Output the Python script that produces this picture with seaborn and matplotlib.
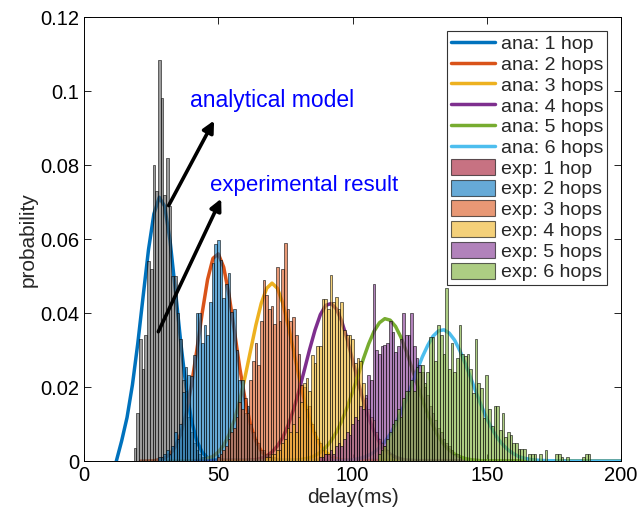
import numpy as np
import matplotlib
matplotlib.use("Agg")
import matplotlib.pyplot as plt
from matplotlib.patches import Patch
from matplotlib.ticker import FixedLocator, FuncFormatter
import seaborn as sns

# experimental histograms: first bin centre (ms) and probability per 1 ms bin
hop1_start = 19
hop1_prob = [0.0035, 0.013, 0.033, 0.025, 0.034, 0.054, 0.052, 0.080, 0.073, 0.1085,
             0.098, 0.072, 0.082, 0.069, 0.050, 0.050, 0.040, 0.033, 0.022, 0.019,
             0.012, 0.008, 0.005, 0.003, 0.002, 0.001, 0.001]
hop2_start = 28
hop2_prob = [0.001, 0.001, 0.002, 0.003, 0.002, 0.004, 0.008, 0.006, 0.010, 0.0187,
             0.0255, 0.0232, 0.023, 0.0286, 0.040, 0.040, 0.032, 0.0368, 0.034, 0.043,
             0.0535, 0.0586, 0.0597, 0.0543, 0.044, 0.048, 0.0508, 0.0404, 0.041, 0.030,
             0.022, 0.022, 0.013, 0.015, 0.010, 0.008, 0.006, 0.005, 0.003, 0.003,
             0.002, 0.002, 0.001, 0.001]
hop3_start = 50
hop3_prob = [0.001, 0.002, 0.003, 0.004, 0.006, 0.008, 0.009, 0.012, 0.016, 0.014,
             0.017, 0.013, 0.022, 0.027, 0.032, 0.026, 0.038, 0.049, 0.045, 0.041,
             0.042, 0.037, 0.0525, 0.038, 0.052, 0.059, 0.041, 0.038, 0.039, 0.034,
             0.029, 0.0205, 0.020, 0.014, 0.015, 0.010, 0.008, 0.006, 0.005, 0.003,
             0.002, 0.002, 0.001]
hop4_start = 68
hop4_prob = [0.001, 0.001, 0.002, 0.002, 0.003, 0.003, 0.005, 0.006, 0.009, 0.008,
             0.010, 0.008, 0.012, 0.016, 0.021, 0.0224, 0.019, 0.0286, 0.0265, 0.031,
             0.031, 0.0438, 0.0438, 0.041, 0.0503, 0.043, 0.0444, 0.041, 0.043, 0.0354,
             0.034, 0.034, 0.033, 0.0265, 0.028, 0.027, 0.021, 0.017, 0.014, 0.012,
             0.011, 0.008, 0.006, 0.005, 0.004, 0.003, 0.002, 0.001]
hop5_start = 88
hop5_prob = [0.001, 0.001, 0.002, 0.002, 0.003, 0.002, 0.004, 0.005, 0.004, 0.006,
             0.008, 0.007, 0.010, 0.012, 0.011, 0.015, 0.014, 0.018, 0.0233, 0.022,
             0.048, 0.030, 0.029, 0.031, 0.0315, 0.032, 0.038, 0.035, 0.0295, 0.031,
             0.033, 0.040, 0.034, 0.034, 0.040, 0.031, 0.028, 0.026, 0.024, 0.020,
             0.018, 0.015, 0.013, 0.011, 0.009, 0.008, 0.006, 0.005, 0.004, 0.003,
             0.002, 0.002, 0.001]
hop6_start = 110
hop6_prob = [0.002, 0.003, 0.004, 0.006, 0.008, 0.010, 0.011, 0.014, 0.012, 0.017,
             0.019, 0.019, 0.022, 0.019, 0.0255, 0.024, 0.026, 0.021, 0.024, 0.0335,
             0.0335, 0.027, 0.0368, 0.034, 0.029, 0.0467, 0.025, 0.032, 0.024, 0.028,
             0.0368, 0.029, 0.0285, 0.029, 0.025, 0.0184, 0.033, 0.021, 0.0198, 0.0117,
             0.0233, 0.014, 0.0095, 0.015, 0.015, 0.0084, 0.013, 0.0066, 0.0078, 0.007,
             0.0048, 0.0048, 0.0032, 0.0032, 0.0032, 0.0, 0.002, 0.002, 0.002, 0.0,
             0.002, 0.0, 0.003, 0.0, 0.0, 0.0, 0.002, 0.002, 0.001, 0.0,
             0.001, 0.0, 0.0, 0.0, 0.0, 0.0, 0.001, 0.002, 0.002]

# analytical curves
ana1_x = [12, 14, 16, 18, 20, 22, 24, 26, 28, 30, 32, 34, 36, 38, 40, 42, 44, 46, 48, 200]
ana1_y = [0.0, 0.0055, 0.0118, 0.0206, 0.0318, 0.0446, 0.0572, 0.0668, 0.0713, 0.0689,
          0.0597, 0.0462, 0.0321, 0.0198, 0.0110, 0.0054, 0.0024, 0.0009, 0.0003, 0.0]
ana2_x = [21, 26, 30, 32, 34, 36, 38, 40, 42, 44, 46, 48, 50, 52, 54, 56, 58, 60, 62,
          64, 66, 68, 70, 72, 74, 200]
ana2_y = [0.0, 0.0001, 0.0008, 0.0019, 0.0039, 0.0074, 0.0128, 0.0206, 0.0300, 0.0401,
          0.0491, 0.0548, 0.0560, 0.0524, 0.0448, 0.0351, 0.0251, 0.0165, 0.0098, 0.0054,
          0.0027, 0.0012, 0.0005, 0.0002, 0.0, 0.0]
ana3_x = [31, 40, 44, 48, 50, 52, 54, 56, 58, 60, 62, 64, 66, 68, 70, 72, 74, 76, 78,
          80, 82, 84, 86, 88, 90, 92, 94, 96, 100, 200]
ana3_y = [0.0, 0.0001, 0.0003, 0.0013, 0.0025, 0.0043, 0.0072, 0.0112, 0.0165, 0.0229,
          0.0299, 0.0368, 0.0427, 0.0467, 0.0481, 0.0467, 0.0427, 0.0368, 0.0299, 0.0229,
          0.0165, 0.0112, 0.0072, 0.0043, 0.0025, 0.0013, 0.0007, 0.0003, 0.0001, 0.0]
ana4_x = [41, 60, 64, 66, 68, 70, 72, 74, 76, 78, 80, 82, 84, 86, 88, 90, 92, 94, 96,
          98, 100, 102, 104, 106, 108, 110, 112, 114, 116, 118, 120, 124, 200]
ana4_y = [0.0, 0.0001, 0.0004, 0.0008, 0.0014, 0.0025, 0.0041, 0.0064, 0.0097, 0.0139,
          0.0189, 0.0245, 0.0302, 0.0354, 0.0396, 0.0421, 0.0426, 0.0411, 0.0377, 0.0329,
          0.0273, 0.0216, 0.0163, 0.0117, 0.0080, 0.0051, 0.0032, 0.0019, 0.0011, 0.0006,
          0.0003, 0.0001, 0.0]
ana5_x = [50, 76, 80, 84, 86, 88, 90, 92, 94, 96, 98, 100, 102, 104, 106, 108, 110, 112,
          114, 116, 118, 120, 122, 124, 126, 128, 130, 132, 134, 136, 138, 140, 142, 144,
          148, 200]
ana5_y = [0.0, 0.0001, 0.0003, 0.0009, 0.0015, 0.0024, 0.0037, 0.0055, 0.0079, 0.0109,
          0.0146, 0.0187, 0.0231, 0.0276, 0.0317, 0.0351, 0.0374, 0.0385, 0.0381, 0.0364,
          0.0335, 0.0297, 0.0254, 0.0209, 0.0166, 0.0127, 0.0094, 0.0066, 0.0045, 0.0030,
          0.0019, 0.0012, 0.0007, 0.0004, 0.0001, 0.0]
ana6_x = [61, 96, 100, 104, 106, 108, 110, 112, 114, 116, 118, 120, 122, 124, 126, 128,
          130, 132, 134, 136, 138, 140, 142, 144, 146, 148, 150, 152, 154, 156, 158, 160,
          162, 164, 166, 168, 170, 174, 180, 200]
ana6_y = [0.0, 0.0001, 0.0003, 0.0010, 0.0016, 0.0024, 0.0036, 0.0052, 0.0073, 0.0100,
          0.0131, 0.0167, 0.0206, 0.0245, 0.0282, 0.0313, 0.0338, 0.0352, 0.0355, 0.0346,
          0.0327, 0.0298, 0.0263, 0.0225, 0.0186, 0.0149, 0.0115, 0.0086, 0.0062, 0.0044,
          0.0030, 0.0020, 0.0012, 0.0008, 0.0005, 0.0003, 0.0002, 0.0001, 0.0, 0.0]

hop_names = ["1 hop", "2 hops", "3 hops", "4 hops", "5 hops", "6 hops"]
line_colors = ["#0072BD", "#D95319", "#EDB120", "#7E2F8E", "#77AC30", "#4DBEEE"]
bar_colors = ["#A2142F", "#0072BD", "#D95319", "#EDB120", "#7E2F8E", "#77AC30"]

sns.set_style("ticks")
plt.rcParams["font.family"] = ["Liberation Sans", "DejaVu Sans"]

fig = plt.figure(figsize=(6.37, 5.17), dpi=100)
ax = fig.add_axes([0.132, 0.108, 0.843, 0.859])

# curves first, the semi-transparent bars go over them
curves = [(ana1_x, ana1_y), (ana2_x, ana2_y), (ana3_x, ana3_y),
          (ana4_x, ana4_y), (ana5_x, ana5_y), (ana6_x, ana6_y)]
line_handles = []
for (cx, cy), col, name in zip(curves, line_colors, hop_names):
    sns.lineplot(x=cx, y=cy, color=col, linewidth=2.5, estimator=None, ax=ax, zorder=1)
    line_handles.append(plt.Line2D([], [], color=col, linewidth=2.5, label="ana: " + name))

hists = [(hop1_start, hop1_prob), (hop2_start, hop2_prob), (hop3_start, hop3_prob),
         (hop4_start, hop4_prob), (hop5_start, hop5_prob), (hop6_start, hop6_prob)]
patch_handles = []
for i, ((start, prob), col, name) in enumerate(zip(hists, bar_colors, hop_names)):
    centers = np.arange(start, start + len(prob))
    fill = "#5a5a5a" if i == 0 else col
    sns.histplot(x=centers, weights=prob, discrete=True, color=fill, alpha=0.6,
                 edgecolor=(0, 0, 0, 0.85), linewidth=0.45, ax=ax, zorder=2)
    patch_handles.append(Patch(facecolor=col, alpha=0.6, edgecolor="black",
                               linewidth=0.8, label="exp: " + name))

ax.set_xlim(0, 200)
ax.set_ylim(0, 0.12)
ax.xaxis.set_major_locator(FixedLocator([0, 50, 100, 150, 200]))
ax.yaxis.set_major_locator(FixedLocator([0, 0.02, 0.04, 0.06, 0.08, 0.1, 0.12]))
ax.yaxis.set_major_formatter(FuncFormatter(lambda v, p: "%g" % round(v, 2)))
ax.tick_params(direction="in", top=True, right=True, length=5, width=0.6,
               labelsize=14.5, colors="black")
for sp in ax.spines.values():
    sp.set_visible(True)
    sp.set_linewidth(0.7)
    sp.set_color("black")
ax.set_xlabel("delay(ms)", fontsize=15, labelpad=2)
ax.set_ylabel("probability", fontsize=15, labelpad=2)

ax.annotate("", xy=(48.9, 0.0927), xytext=(31, 0.0684),
            arrowprops=dict(arrowstyle="-|>", lw=2.6, color="black", mutation_scale=17),
            zorder=6)
ax.annotate("", xy=(51.5, 0.0716), xytext=(27.2, 0.0343),
            arrowprops=dict(arrowstyle="-|>", lw=2.6, color="black", mutation_scale=17),
            zorder=6)
ax.text(39.5, 0.0975, "analytical model", color="blue", fontsize=16.5, va="center", zorder=6)
ax.text(47, 0.0745, "experimental result", color="blue", fontsize=16, va="center", zorder=6)

leg = ax.legend(handles=line_handles + patch_handles, loc="upper right", fontsize=14,
                frameon=True, fancybox=False, edgecolor="#333333", framealpha=1,
                handlelength=2.3, handleheight=0.9, labelspacing=0.1,
                handletextpad=0.3, borderpad=0.2, borderaxespad=0.7)
leg.get_frame().set_linewidth(0.8)
leg.set_zorder(7)

fig.savefig("out.png", dpi=100)
